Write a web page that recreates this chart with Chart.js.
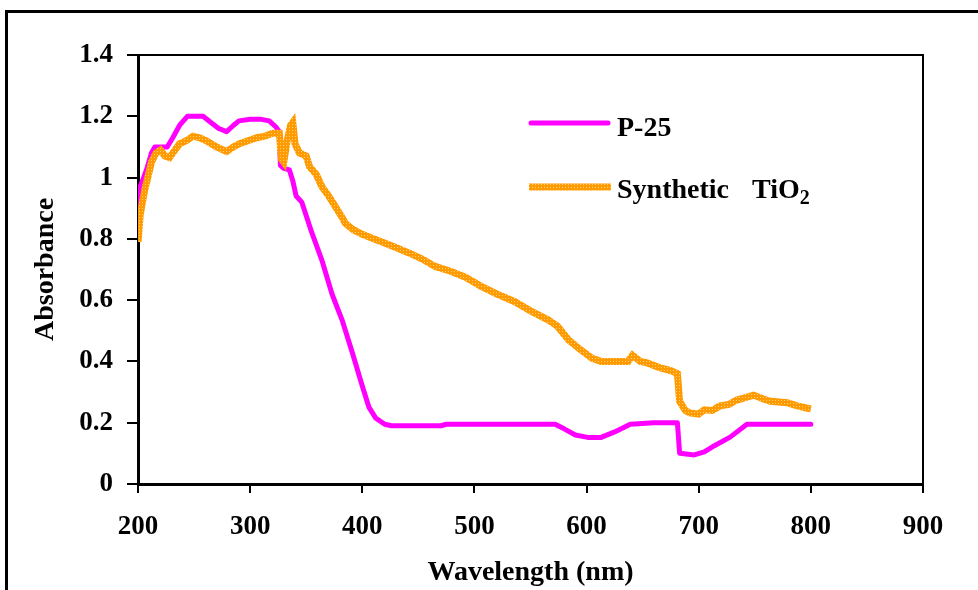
<!DOCTYPE html>
<html>
<head>
<meta charset="utf-8">
<script src="https://cdn.jsdelivr.net/npm/chart.js@4.4.1/dist/chart.umd.min.js"></script>
<style>
  html, body { margin: 0; padding: 0; background: #fff; }
  #wrap { width: 978px; height: 590px; }
</style>
</head>
<body>
<div id="wrap"><canvas id="grafico" width="978" height="590"></canvas></div>
<script>
const p25Wavelength = [200, 202, 205, 208, 212, 215, 220, 226, 231, 237, 244, 250, 258, 265, 272, 279, 285, 290, 300, 310, 317, 323, 326, 327, 330, 335, 338, 341, 346, 355, 364, 373, 382, 391, 400, 406, 412, 420, 426, 450, 470, 475, 500, 540, 572, 580, 590, 601, 613, 625, 639, 660, 681, 683, 696, 705, 714, 728, 743, 760, 800];
const p25Absorbance = [0.90, 0.97, 1.00, 1.03, 1.08, 1.10, 1.10, 1.10, 1.13, 1.17, 1.20, 1.20, 1.20, 1.18, 1.16, 1.15, 1.17, 1.185, 1.19, 1.19, 1.185, 1.165, 1.15, 1.04, 1.03, 1.025, 0.99, 0.94, 0.92, 0.82, 0.73, 0.62, 0.535, 0.43, 0.32, 0.25, 0.215, 0.195, 0.19, 0.19, 0.19, 0.195, 0.195, 0.195, 0.195, 0.18, 0.16, 0.152, 0.152, 0.17, 0.195, 0.20, 0.20, 0.10, 0.095, 0.105, 0.125, 0.153, 0.195, 0.195, 0.195];

const tio2Wavelength = [200, 202, 206, 212, 216, 220, 224, 228, 233, 237, 243, 249, 255, 261, 270, 279, 285, 290, 298, 306, 313, 320, 326, 328, 330, 333, 336, 338, 340, 344, 350, 353, 359, 364, 370, 376, 382, 385, 392, 400, 410, 421, 431, 441, 453, 465, 478, 492, 506, 520, 536, 550, 566, 574, 584, 595, 605, 613, 625, 637, 641, 648, 654, 665, 675, 681, 683, 688, 692, 700, 705, 712, 719, 727, 734, 740, 749, 757, 764, 779, 788, 796, 800];
const tio2Absorbance = [0.79, 0.88, 0.96, 1.05, 1.08, 1.09, 1.07, 1.065, 1.09, 1.11, 1.12, 1.135, 1.13, 1.12, 1.10, 1.085, 1.10, 1.11, 1.12, 1.13, 1.135, 1.145, 1.145, 1.06, 1.05, 1.12, 1.17, 1.18, 1.11, 1.08, 1.07, 1.035, 1.01, 0.97, 0.94, 0.905, 0.87, 0.85, 0.83, 0.815, 0.80, 0.785, 0.77, 0.755, 0.735, 0.71, 0.695, 0.675, 0.645, 0.62, 0.595, 0.565, 0.535, 0.515, 0.47, 0.437, 0.41, 0.40, 0.40, 0.40, 0.42, 0.40, 0.395, 0.38, 0.37, 0.36, 0.27, 0.24, 0.232, 0.228, 0.242, 0.24, 0.255, 0.26, 0.274, 0.28, 0.29, 0.278, 0.27, 0.265, 0.255, 0.248, 0.245];

const seriesNames = ['P-25', 'Synthetic TiO₂'];

const fuente = '"Liberation Serif", "Times New Roman", serif';

// patrón punteado para la línea naranja
function patronNaranja() {
    const c = document.createElement('canvas');
    c.width = 3; c.height = 3;
    const g = c.getContext('2d');
    g.fillStyle = '#FF9A00';
    g.fillRect(0, 0, 3, 3);
    g.fillStyle = '#FFD27A';
    g.fillRect(1, 1, 1, 1);
    return g.createPattern(c, 'repeat');
}
const naranja = patronNaranja();

const toXY = (xs, ys) => xs.map((x, i) => ({ x: x, y: ys[i] }));

// marco exterior, caja del área y leyenda
const extras = {
    id: 'extras',
    afterDraw(chart) {
        const ctx = chart.ctx;
        const a = chart.chartArea;
        ctx.save();
        ctx.strokeStyle = '#000';
        ctx.lineWidth = 3;
        ctx.beginPath();
        ctx.moveTo(6.5, 600);
        ctx.lineTo(6.5, 11.5);
        ctx.lineTo(990, 11.5);
        ctx.stroke();

        ctx.lineWidth = 2;
        ctx.beginPath();
        ctx.moveTo(a.left, a.top);
        ctx.lineTo(a.right, a.top);
        ctx.lineTo(a.right, a.bottom);
        ctx.stroke();

        // leyenda
        ctx.lineCap = 'round';
        ctx.strokeStyle = '#FF00FF';
        ctx.lineWidth = 5;
        ctx.beginPath();
        ctx.moveTo(531, 123);
        ctx.lineTo(608, 123);
        ctx.stroke();

        ctx.lineCap = 'butt';
        ctx.strokeStyle = naranja;
        ctx.lineWidth = 7;
        ctx.beginPath();
        ctx.moveTo(529, 187);
        ctx.lineTo(611, 187);
        ctx.stroke();

        ctx.fillStyle = '#000';
        ctx.textBaseline = 'alphabetic';
        ctx.font = 'bold 28px ' + fuente;
        ctx.fillText(seriesNames[0], 617, 136);
        ctx.fillText('Synthetic', 617, 198);
        ctx.fillText('TiO', 752, 198);
        const w = ctx.measureText('TiO').width;
        ctx.font = 'bold 20px ' + fuente;
        ctx.fillText('2', 752 + w, 204);
        ctx.restore();
    }
};

new Chart(document.getElementById('grafico'), {
    type: 'line',
    data: {
        datasets: [
            {
                label: seriesNames[0],
                data: toXY(p25Wavelength, p25Absorbance),
                borderColor: '#FF00FF',
                borderWidth: 5,
                pointRadius: 0,
                tension: 0,
                borderJoinStyle: 'round',
                borderCapStyle: 'round',
                order: 2
            },
            {
                label: seriesNames[1],
                data: toXY(tio2Wavelength, tio2Absorbance),
                borderColor: naranja,
                borderWidth: 7,
                pointRadius: 0,
                tension: 0,
                order: 1
            }
        ]
    },
    options: {
        responsive: false,
        animation: false,
        layout: { padding: { left: 0, top: 55, right: 55, bottom: 0 } },
        plugins: {
            legend: { display: false },
            tooltip: { enabled: false }
        },
        scales: {
            x: {
                type: 'linear',
                min: 200,
                max: 900,
                afterFit: (s) => { s.height = 106; },
                ticks: {
                    stepSize: 100,
                    color: '#000',
                    padding: 18,
                    font: { family: fuente, size: 27, weight: 'bold' }
                },
                grid: {
                    drawOnChartArea: false,
                    color: '#000',
                    lineWidth: 2,
                    tickLength: 9
                },
                border: { color: '#000', width: 3 },
                title: {
                    display: true,
                    text: 'Wavelength (nm)',
                    color: '#000',
                    padding: 0,
                    font: { family: fuente, size: 28, weight: 'bold' }
                }
            },
            y: {
                min: 0,
                max: 1.4,
                afterFit: (s) => { s.width = 138; },
                ticks: {
                    stepSize: 0.2,
                    color: '#000',
                    padding: 14,
                    callback: (v) => String(+v.toFixed(1)),
                    font: { family: fuente, size: 27, weight: 'bold' }
                },
                grid: {
                    drawOnChartArea: false,
                    color: '#000',
                    lineWidth: 2,
                    tickLength: 11
                },
                border: { color: '#000', width: 3 },
                title: {
                    display: true,
                    text: 'Absorbance',
                    color: '#000',
                    padding: { top: 29, bottom: 0 },
                    font: { family: fuente, size: 28, weight: 'bold' }
                }
            }
        }
    },
    plugins: [extras]
});
</script>
</body>
</html>
